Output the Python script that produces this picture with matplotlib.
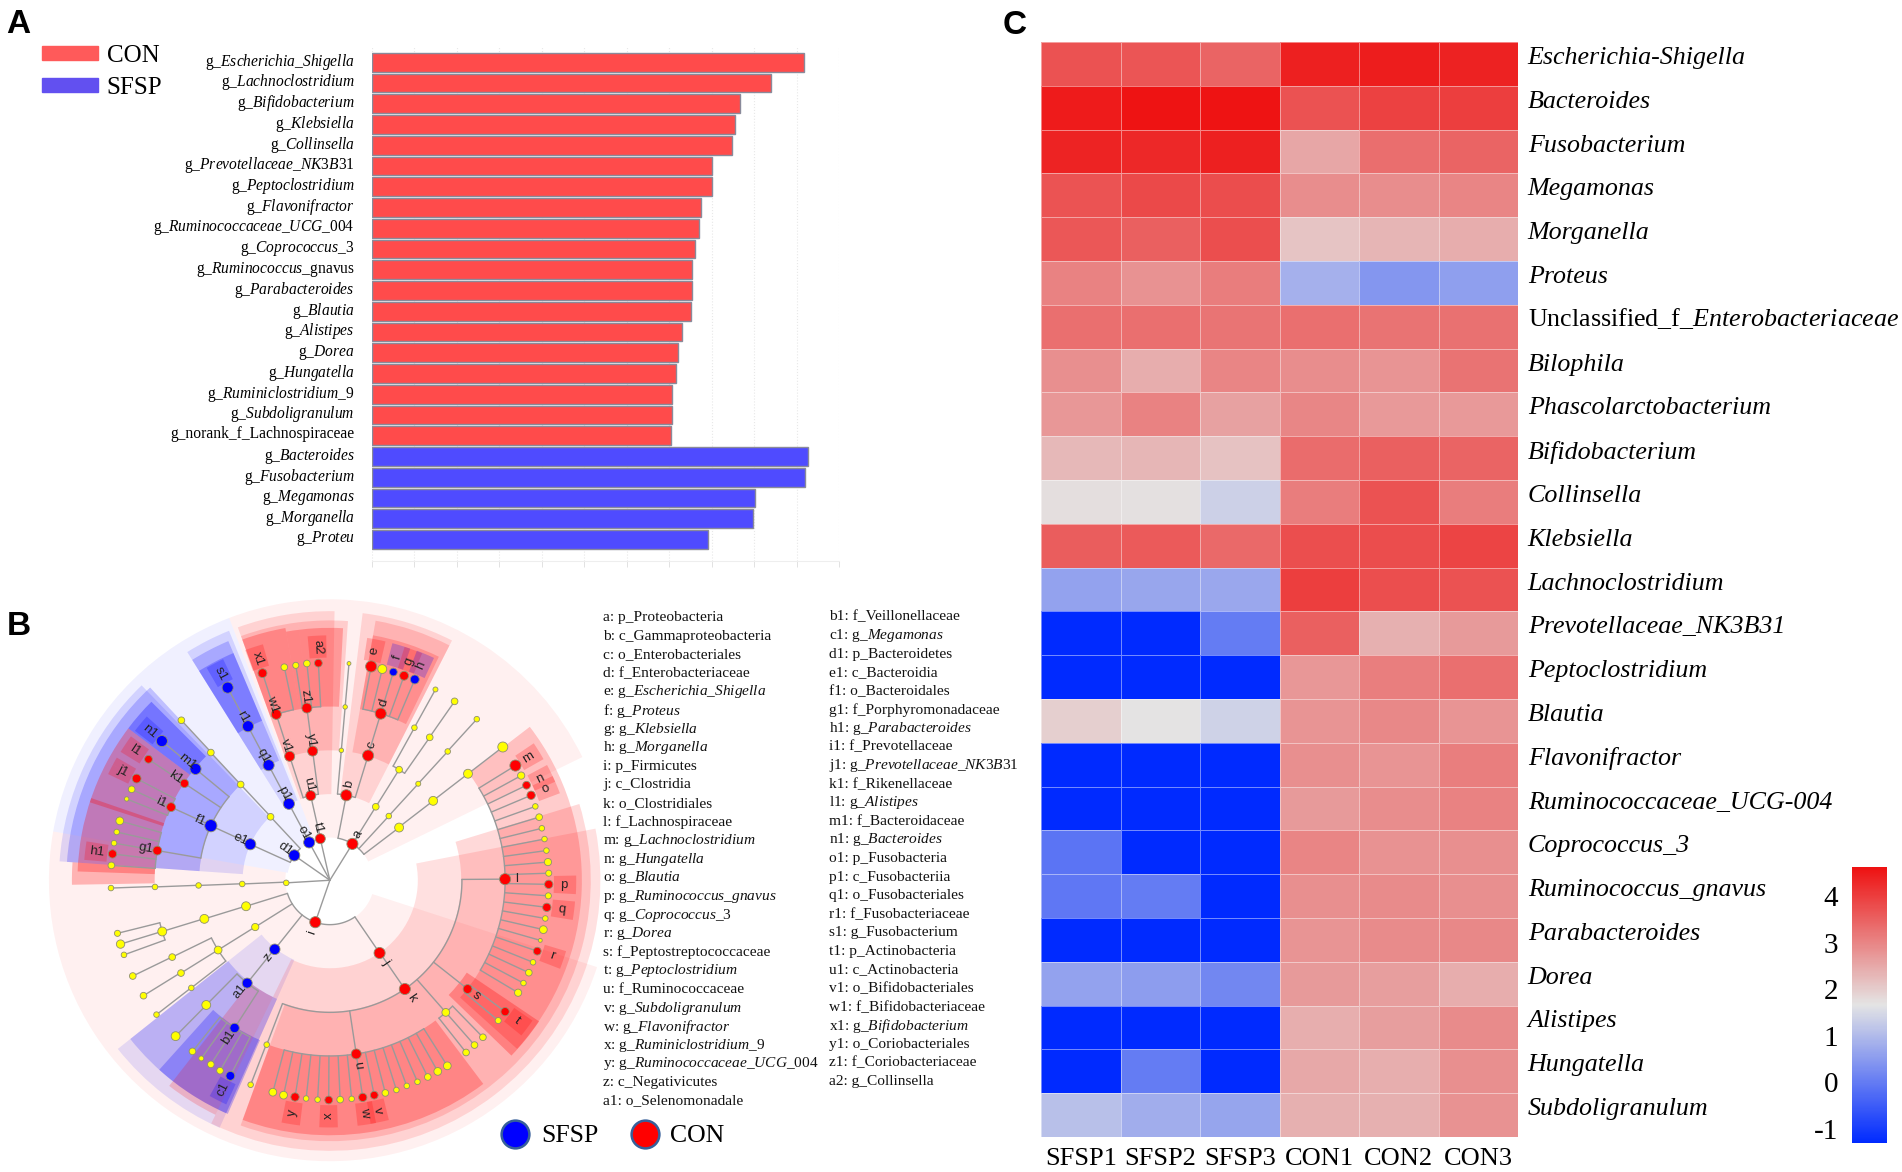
import numpy as np
import matplotlib
matplotlib.use("Agg")
import matplotlib.pyplot as plt
from matplotlib.colors import LinearSegmentedColormap
from matplotlib.lines import Line2D
from matplotlib.patches import Patch, Wedge
from matplotlib.transforms import ScaledTranslation

plt.rcParams['font.family'] = ['Liberation Serif', 'DejaVu Sans']
plt.rcParams['mathtext.fontset'] = 'custom'
plt.rcParams['mathtext.rm'] = 'Liberation Serif'
plt.rcParams['mathtext.it'] = 'Liberation Serif:italic'
plt.rcParams['mathtext.bf'] = 'Liberation Serif:bold'
plt.rcParams['axes.unicode_minus'] = False

W, H = 1902, 1172

# --- panel A: LDA bars ---
lda_labels = ["g_*Escherichia_Shigella*", "g_*Lachnoclostridium*", "g_*Bifidobacterium*", "g_*Klebsiella*",
              "g_*Collinsella*", "g_*Prevotellaceae_NK3B31*", "g_*Peptoclostridium*", "g_*Flavonifractor*",
              "g_*Ruminococcaceae_UCG_004*", "g_*Coprococcus_3*", "g_*Ruminococcus*_gnavus", "g_*Parabacteroides*",
              "g_*Blautia*", "g_*Alistipes*", "g_*Dorea*", "g_*Hungatella*", "g_*Ruminiclostridium_9*",
              "g_*Subdoligranulum*", "g_norank_f_Lachnospiraceae", "g_*Bacteroides*", "g_*Fusobacterium*",
              "g_*Megamonas*", "g_*Morganella*", "g_*Proteu*"]
lda_scores = [5.09, 4.70, 4.33, 4.27, 4.24, 4.01, 4.00, 3.87, 3.85, 3.80, 3.77, 3.77,
              3.76, 3.65, 3.60, 3.58, 3.53, 3.53, 3.52, 5.13, 5.10, 4.51, 4.49, 3.96]
lda_groups = ["CON"] * 19 + ["SFSP"] * 5
lda_ticks = [0, 0.5, 1, 1.5, 2, 2.5, 3, 3.5, 4, 4.5, 5, 5.5]

# --- panel B: cladogram nodes (layout units) ---
node_id = ["a", "t1", "o1", "d1", "_p", "i",
           "b", "_a1", "_a2", "_a3", "c", "_b1", "_b2", "_b3", "d", "e", "_d1", "f", "g", "h",
           "_a11", "_a12", "_a13", "_a14", "_a15", "_a21", "_a22", "_a23", "_a31", "_a32", "_a33",
           "u1", "v1", "y1", "w1", "z1", "x1", "_w1", "_z1", "_z2", "a2",
           "p1", "q1", "r1", "s1",
           "e1", "_e1", "_e2", "_e3", "_e4", "f1", "m1", "k1", "i1", "g1", "n1", "l1", "j1", "_i1", "_i2",
           "_g1", "_g2", "_g3", "h1", "_g4",
           "_p1", "_p2", "_p3", "_p4",
           "_n1", "_n2", "_n3", "_n4", "_n5", "_n6",
           "_o1", "_o2", "_o3", "_o4", "_o5", "_o6", "_o7", "_o8",
           "z", "a1", "b1", "_q1", "_q2", "_r1", "_r2", "_r3", "_r4", "c1",
           "j", "k", "_s1", "_s2", "u", "s", "_t1", "l", "_t2", "_t3", "_t4", "t", "_t5",
           "_u1", "_u2", "y", "_u3", "_u4", "x", "_u5", "_u6", "w", "v", "_u7", "_u8", "_u9", "_u10", "_u11", "_u12", "_u13",
           "m", "_l1", "n", "o", "_l2", "_l3", "_l4", "_l5", "_l6", "_l7", "_l8", "p", "_l9", "q", "_l10", "_l11", "_l12", "r", "_l13", "_l14", "_l15", "_l16"]
node_x = [921, 837, 808, 769, 748, 824,
          905, 982, 1016, 1043, 962, 892, 902, 912, 995, 970, 999, 1028, 1056, 1084,
          1043, 1083, 1123, 1138, 1188, 1093, 1170, 1246, 1132, 1223, 1314,
          812, 757, 817, 722, 802, 686, 743, 773, 802, 832,
          755, 702, 648, 595,
          654, 707, 629, 551, 474, 551, 511, 482, 447, 411, 423, 388, 357, 344, 331,
          313, 305, 298, 294, 291,
          633, 519, 405, 290,
          643, 534, 424, 307, 315, 324,
          667, 570, 450, 473, 500, 347, 375, 409,
          718, 646, 613, 539, 459, 503, 526, 551, 575, 602,
          992, 1058, 697, 655, 931, 1222, 1165, 1320, 1218, 1240, 1262, 1320, 1302,
          713, 741, 771, 800, 830, 859, 889, 919, 948, 978, 1007, 1036, 1063, 1091, 1118, 1144, 1169,
          1347, 1362, 1376, 1388, 1399, 1409, 1416, 1423, 1428, 1432, 1434, 1434, 1433, 1429, 1425, 1420, 1412, 1404, 1393, 1382, 1368, 1354]
node_y = [684, 670, 680, 715, 789, 895,
          553, 584, 609, 640, 446, 432, 315, 198, 333, 206, 213, 221, 231, 241,
          484, 371, 397, 268, 300, 522, 435, 348, 568, 495, 423,
          554, 448, 434, 335, 318, 224, 208, 203, 198, 197,
          576, 472, 367, 263,
          685, 611, 524, 438, 351, 635, 482, 521, 585, 702, 407, 456, 508, 537, 563,
          622, 652, 682, 711, 742,
          792, 796, 800, 803,
          852, 886, 920, 925, 954, 983,
          908, 970, 989, 1032, 1072, 1040, 1093, 1144,
          968, 1059, 1180, 1118, 1202, 1243, 1262, 1278, 1295, 1309,
          978, 1075, 1225, 1333, 1250, 1075, 1138, 779, 1246, 1226, 1205, 1136, 1160,
          1353, 1361, 1366, 1370, 1373, 1374, 1373, 1371, 1367, 1361, 1355, 1347, 1336, 1325, 1312, 1297, 1282,
          473, 500, 526, 553, 583, 612, 642, 671, 702, 733, 763, 793, 824, 855, 885, 915, 944, 973, 1003, 1031, 1059, 1085]
node_parent = ["", "", "", "", "", "",
               "a", "a", "a", "a", "b", "b", "_b1", "_b2", "c", "d", "d", "d", "d", "d",
               "_a1", "_a11", "_a11", "_a12", "_a13", "_a2", "_a21", "_a22", "_a3", "_a31", "_a32",
               "t1", "u1", "u1", "v1", "y1", "w1", "w1", "z1", "z1", "z1",
               "o1", "p1", "q1", "r1",
               "d1", "d1", "_e1", "_e2", "_e3", "e1", "f1", "f1", "f1", "f1", "m1", "k1", "i1", "i1", "i1",
               "g1", "g1", "g1", "g1", "g1",
               "_p", "_p1", "_p2", "_p3",
               "i", "_n1", "_n2", "_n3", "_n3", "_n3",
               "i", "_o1", "_o2", "_o2", "_o2", "_o3", "_o4", "_o5",
               "i", "z", "a1", "a1", "_q1", "b1", "b1", "b1", "b1", "b1",
               "i", "j", "k", "_s1", "k", "k", "k", "k", "_t1", "_t1", "_t1", "s", "s"] + ["u"] * 17 + ["l"] * 22
node_group = list("CCSSNC" "CNNNCNNNCCNSCS" "NNNNNNNNNNN" "CCCCCCNNNC" "SSSS"
                  "SNNNNSSCCCSCCNN" "NNNCN" "NNNN" "NNNNNN" "NNNNNNNN"
                  "SSSNNNNNNS" "CCNNCCNCNNNCN"
                  "NNCNNCNNCCNNNNNNN" "CNCCNNNNNNNCNCNNNCNNNN")
node_size = [10, 9, 10, 10, 5, 10,
             10, 6, 5, 8, 10, 4, 4, 3.5, 10, 10, 8, 7, 8, 8,
             6, 5, 6, 4.5, 6, 4.5, 5, 5, 8, 8, 9,
             9, 9, 9, 9, 9, 8, 6, 5.5, 6, 7,
             10, 10, 10, 10,
             10, 6, 6, 6, 6, 11, 10, 7.5, 8, 8, 10, 7, 8, 6, 4,
             7, 5, 5, 7.5, 6,
             5, 5, 5, 5,
             8, 8, 8, 5.5, 7.5, 5,
             6.5, 7, 6, 6, 5, 6, 6, 5,
             9.5, 9, 8.5, 8, 8, 6, 4.5, 6, 6, 8,
             10, 10, 5, 5, 9, 8, 7, 10, 6, 6, 6, 7.5, 5.5,
             7, 7, 7.5, 5, 5, 7, 6, 5, 7.5, 7, 6, 5, 5, 5, 6, 7, 7,
             10, 6.5, 7, 7.5, 5, 6, 5, 5, 5, 6.5, 5.5, 7.5, 5.5, 7.5, 5, 7, 3.5, 7, 5, 6, 5, 6.5]
clade_centre = (862, 782)
x_stretch = 1.031  # layout x units were read a bit tighter than y

# shaded sectors: clade, from/to angle, inner/outer radius, group, strength
sector_theta1 = [26, -190, 88, 111, 123,
                 63, 89, 112, 134, -141.5, -116,
                 63, -110, -141.5, 133, 97, 86, 113,
                 64, -42, -110, -44, 100, 87, 113, 135, 143, 152, 161, 176, -132, -128]
sector_theta2 = [88, -18, 111, 123, 170,
                 83, 110, 122, 176, -114, 11,
                 80, 17, -114, 176, 110, 97, 122,
                 80, 37.5, -53, -34, 110, 100, 122, 143, 152, 162, 178, 181, -113.6, -116]
sector_r1 = [115, 120, 115, 115, 115,
             233, 232, 232, 235, 235, 237,
             350, 354, 350, 352, 350, 350, 350,
             468, 472, 473, 445, 468, 468, 467, 472, 472, 472, 472, 472, 470, 350]
sector_r2 = [757, 757, 757, 757, 757,
             725, 725, 725, 730, 730, 729,
             710, 703, 687, 710, 700, 700, 700,
             670, 679, 687, 680, 690, 680, 665, 680, 680, 680, 680, 695, 687, 703]
sector_group = list("CCCSS" "CCSSSC" "CCSSCCS" "CCCCCCSSCCCCSC")
sector_alpha = [.06, .06, .06, .06, .06,
                .12, .12, .12, .12, .1, .12,
                .15, .15, .18, .2, .15, .15, .2,
                .2, .2, .25, .28, .25, .25, .25, .3, .28, .28, .28, .25, .25, .18]

clade_key_1 = ["a: p_Proteobacteria", "b: c_Gammaproteobacteria", "c: o_Enterobacteriales", "d: f_Enterobacteriaceae",
               "e: g_*Escherichia_Shigella*", "f: g_*Proteus*", "g: g_*Klebsiella*", "h: g_*Morganella*",
               "i: p_Firmicutes", "j: c_Clostridia", "k: o_Clostridiales", "l: f_Lachnospiraceae",
               "m: g_*Lachnoclostridium*", "n: g_*Hungatella*", "o: g_*Blautia*", "p: g_*Ruminococcus_gnavus*",
               "q: g_*Coprococcus_3*", "r: g_*Dorea*", "s: f_Peptostreptococcaceae", "t: g_*Peptoclostridium*",
               "u: f_Ruminococcaceae", "v: g_*Subdoligranulum*", "w: g_*Flavonifractor*", "x: g_*Ruminiclostridium_9*",
               "y: g_*Ruminococcaceae_UCG_004*", "z: c_Negativicutes", "a1: o_Selenomonadale"]
clade_key_2 = ["b1: f_Veillonellaceae", "c1: g_*Megamonas*", "d1: p_Bacteroidetes", "e1: c_Bacteroidia",
               "f1: o_Bacteroidales", "g1: f_Porphyromonadaceae", "h1: g_*Parabacteroides*", "i1: f_Prevotellaceae",
               "j1: g_*Prevotellaceae_NK3B31*", "k1: f_Rikenellaceae", "l1: g_*Alistipes*", "m1: f_Bacteroidaceae",
               "n1: g_*Bacteroides*", "o1: p_Fusobacteria", "p1: c_Fusobacteriia", "q1: o_Fusobacteriales",
               "r1: f_Fusobacteriaceae", "s1: g_Fusobacterium", "t1: p_Actinobacteria", "u1: c_Actinobacteria",
               "v1: o_Bifidobacteriales", "w1: f_Bifidobacteriaceae", "x1: g_*Bifidobacterium*", "y1: o_Coriobacteriales",
               "z1: f_Coriobacteriaceae", "a2: g_Collinsella"]

# --- panel C: heatmap ---
hm_columns = ["SFSP1", "SFSP2", "SFSP3", "CON1", "CON2", "CON3"]
hm_rows = ["Escherichia-Shigella", "Bacteroides", "Fusobacterium", "Megamonas", "Morganella", "Proteus",
           "Unclassified_f_*Enterobacteriaceae*", "Bilophila", "Phascolarctobacterium", "Bifidobacterium",
           "Collinsella", "Klebsiella", "Lachnoclostridium", "Prevotellaceae_NK3B31", "Peptoclostridium",
           "Blautia", "Flavonifractor", "Ruminococcaceae_UCG-004", "Coprococcus_3", "Ruminococcus_gnavus",
           "Parabacteroides", "Dorea", "Alistipes", "Hungatella", "Subdoligranulum"]
hm_values = [[3.71, 3.67, 3.45, 4.42, 4.45, 4.38],
             [4.48, 4.60, 4.60, 3.72, 3.95, 4.00],
             [4.37, 4.30, 4.42, 2.53, 3.33, 3.45],
             [3.70, 3.82, 3.78, 2.88, 2.87, 3.00],
             [3.65, 3.50, 3.75, 2.12, 2.32, 2.43],
             [3.05, 2.82, 3.12, 0.85, 0.43, 0.57],
             [3.30, 3.30, 3.22, 3.30, 3.25, 3.28],
             [2.85, 2.45, 3.00, 2.88, 2.78, 3.25],
             [2.75, 3.05, 2.60, 2.97, 2.72, 2.72],
             [2.28, 2.30, 2.15, 3.35, 3.50, 3.45],
             [1.75, 1.72, 1.35, 3.12, 3.72, 3.12],
             [3.55, 3.60, 3.40, 3.75, 3.78, 3.90],
             [0.60, 0.68, 0.70, 4.00, 3.75, 3.72],
             [-1.30, -1.30, 0.00, 3.50, 2.40, 2.70],
             [-1.30, -1.30, -1.30, 2.75, 3.10, 3.30],
             [1.95, 1.67, 1.38, 2.80, 2.95, 2.80],
             [-1.30, -1.30, -1.30, 2.85, 2.80, 3.10],
             [-1.30, -1.30, -1.30, 2.70, 2.88, 3.05],
             [-0.10, -1.30, -1.30, 3.00, 2.82, 2.85],
             [-0.05, 0.00, -1.30, 2.85, 2.90, 2.85],
             [-1.30, -1.30, -1.30, 2.80, 2.90, 2.95],
             [0.60, 0.55, 0.20, 2.70, 2.65, 2.45],
             [-1.30, -1.30, -1.30, 2.42, 2.65, 2.90],
             [-1.30, 0.00, -1.30, 2.50, 2.42, 2.85],
             [1.10, 0.80, 0.65, 2.40, 2.40, 2.82]]
hm_ticks = [-1, 0, 1, 2, 3, 4]


def box(left, top, right, bottom):
    # pixel box -> figure fractions
    return [left / W, 1 - bottom / H, (right - left) / W, (bottom - top) / H]


def mixed(s):
    # *...* = italic part
    parts = s.split('*')
    out = ""
    for n, part in enumerate(parts):
        if n % 2:
            out += "$\\mathit{" + part.replace("_", "\\_") + "}$"
        else:
            out += part
    return out


def nudge(label, px_up, fig):
    # move a tick label up by some pixels
    label.set_transform(label.get_transform() + ScaledTranslation(0, px_up / 100, fig.dpi_scale_trans))


fig = plt.figure(figsize=(W / 100, H / 100), dpi=100)
for letter, lx, ly in [("A", 6, 33), ("B", 7, 635), ("C", 1003, 34)]:
    fig.text(lx / W, 1 - ly / H, letter, family='Liberation Sans', weight='bold', fontsize=24, va='baseline')

# --- A ---
ax_a = fig.add_axes(box(372, 46, 839, 561))
bar_colours = {"CON": "#ff4b4b", "SFSP": "#4f4bff"}
pos = np.arange(len(lda_scores))
ax_a.barh(pos, lda_scores, height=0.9, color=[bar_colours[g] for g in lda_groups],
          edgecolor="#8a8a9a", linewidth=1.0, zorder=3)
ax_a.set_xlim(0, 5.5)
ax_a.set_ylim(24.04, -0.78)
ax_a.set_xticks(lda_ticks)
ax_a.set_xticklabels([])
ax_a.set_yticks(pos)
ax_a.set_yticklabels([mixed(s) for s in lda_labels], fontsize=11.2)
ax_a.tick_params(axis='y', length=0, pad=12.5)
ax_a.tick_params(axis='x', length=4, width=0.7, color="#e2e2e2")
ax_a.grid(axis='x', color="#e8e8e8", linestyle=':', linewidth=0.8, zorder=0)
for lab in ax_a.get_yticklabels():
    nudge(lab, 3.5, fig)
for side in ['top', 'left', 'right']:
    ax_a.spines[side].set_visible(False)
ax_a.spines['bottom'].set_color("#eeeeee")
fig.legend(handles=[Patch(color="#ff5a5a", label="CON"), Patch(color="#6250f0", label="SFSP")],
           loc='upper left', bbox_to_anchor=(42 / W, 1 - 45 / H), frameon=False, fontsize=18,
           borderpad=0, borderaxespad=0, handlelength=2.25, handleheight=0.45,
           handletextpad=0.34, labelspacing=0.4)

# --- B ---
ax_b = fig.add_axes(box(0, 590, 600, 1172))
cx, cy = clade_centre
ax_b.set_xlim(-cx * x_stretch, (1568 - cx) * x_stretch)
ax_b.set_ylim(cy - 1568, cy)
ax_b.axis('off')
ax_b.patch.set_visible(False)
group_colour = {"C": "#ff0000", "S": "#0000ff", "N": "#ffff00"}

for t1, t2, r1, r2, g, al in zip(sector_theta1, sector_theta2, sector_r1, sector_r2, sector_group, sector_alpha):
    ax_b.add_patch(Wedge((0, 0), r2, t1, t2, width=r2 - r1, facecolor=group_colour[g], alpha=al,
                         linewidth=0, zorder=1, clip_on=False))

nx = (np.array(node_x, dtype=float) - cx) * x_stretch
ny = cy - np.array(node_y, dtype=float)
nr = np.hypot(nx, ny)
nt = np.degrees(np.arctan2(ny, nx))
index = {name: n for n, name in enumerate(node_id)}
children = {}
for n, par in enumerate(node_parent):
    children.setdefault(par, []).append(n)

line_style = dict(color="#9a9a9a", linewidth=1.0, zorder=2, solid_capstyle='round')
for n, par in enumerate(node_parent):
    rad = np.radians(nt[n])
    r0 = nr[index[par]] if par else 0
    ax_b.plot([r0 * np.cos(rad), nr[n] * np.cos(rad)], [r0 * np.sin(rad), nr[n] * np.sin(rad)], **line_style)
for par, kids in children.items():
    if not par or len(kids) < 1:
        continue
    p = index[par]
    rel = [(nt[k] - nt[p] + 180) % 360 - 180 for k in kids] + [0]
    arc = np.radians(nt[p] + np.linspace(min(rel), max(rel), 60))
    ax_b.plot(nr[p] * np.cos(arc), nr[p] * np.sin(arc), **line_style)

# tags behind labelled leaves
for n, name in enumerate(node_id):
    if name.startswith("_") or name in children or node_group[n] == "N":
        continue
    half = np.degrees(24 / (nr[n] + 45))
    ax_b.add_patch(Wedge((0, 0), nr[n] + 74, nt[n] - half, nt[n] + half, width=60,
                         facecolor=group_colour[node_group[n]], alpha=0.22, linewidth=0,
                         zorder=1.5, clip_on=False))

ax_b.scatter(nx, ny, s=[(d * 0.8) ** 2 for d in node_size], c=[group_colour[g] for g in node_group],
             edgecolors="#8f8f70", linewidths=0.6, zorder=3, clip_on=False)
for n, name in enumerate(node_id):
    if name.startswith("_"):
        continue
    off = 42 if name not in children else 30
    rad = np.radians(nt[n])
    rot = nt[n] if np.cos(rad) >= 0 else nt[n] - 180
    ax_b.text((nr[n] + off) * np.cos(rad), (nr[n] + off) * np.sin(rad), name, family='Liberation Sans',
              fontsize=9.5, color="#222222", rotation=rot, rotation_mode='anchor', ha='center', va='center', zorder=4)

for col, x0, y0, step in [(clade_key_1, 603, 617.5, 18.6), (clade_key_2, 829, 617, 18.58)]:
    for n, s in enumerate(col):
        fig.text(x0 / W, 1 - (y0 + n * step) / H, mixed(s), fontsize=11.1, va='center', ha='left', color="#111111")

fig.legend(handles=[Line2D([], [], linestyle='', marker='o', markersize=20, markerfacecolor="#0000ff",
                           markeredgecolor="#37609a", markeredgewidth=1.8, label="SFSP"),
                    Line2D([], [], linestyle='', marker='o', markersize=20, markerfacecolor="#ff0000",
                           markeredgecolor="#37609a", markeredgewidth=1.8, label="CON")],
           ncol=2, loc='center left', bbox_to_anchor=(500 / W, 1 - 1136 / H), frameon=False, fontsize=18.5,
           borderpad=0, borderaxespad=0, handlelength=1.2, handletextpad=0.4, columnspacing=1.2)

# --- C ---
ax_c = fig.add_axes(box(1041, 42, 1518, 1137))
hm_cmap = LinearSegmentedColormap.from_list("hm", ["#002aff", "#e4e4e4", "#ee1111"])
data = np.array(hm_values)
mesh = ax_c.pcolormesh(data, cmap=hm_cmap, vmin=-1.3, vmax=4.63, edgecolors=(1, 1, 1, 0.45), linewidth=0.7)
ax_c.invert_yaxis()
ax_c.set_xticks(np.arange(len(hm_columns)) + 0.5)
ax_c.set_xticklabels(hm_columns, fontsize=19)
ax_c.set_yticks(np.arange(len(hm_rows)) + 0.5)
ax_c.yaxis.tick_right()
ax_c.set_yticklabels([mixed(s) if '*' in s else s for s in hm_rows], fontsize=18.7)
ax_c.tick_params(axis='both', length=0)
ax_c.tick_params(axis='y', pad=7)
ax_c.tick_params(axis='x', pad=8)
for lab, s in zip(ax_c.get_yticklabels(), hm_rows):
    if '*' not in s:
        lab.set_fontstyle('italic')
        nudge(lab, 8.5, fig)
    else:
        nudge(lab, 11, fig)
for side in ax_c.spines:
    ax_c.spines[side].set_visible(False)

cax = fig.add_axes(box(1852, 866.5, 1887, 1143))
cbar = fig.colorbar(mesh, cax=cax, ticks=hm_ticks)
cbar.outline.set_visible(False)
cax.yaxis.set_ticks_position('left')
cax.tick_params(length=0, labelsize=21, pad=10)

fig.savefig("out.png", dpi=100)
